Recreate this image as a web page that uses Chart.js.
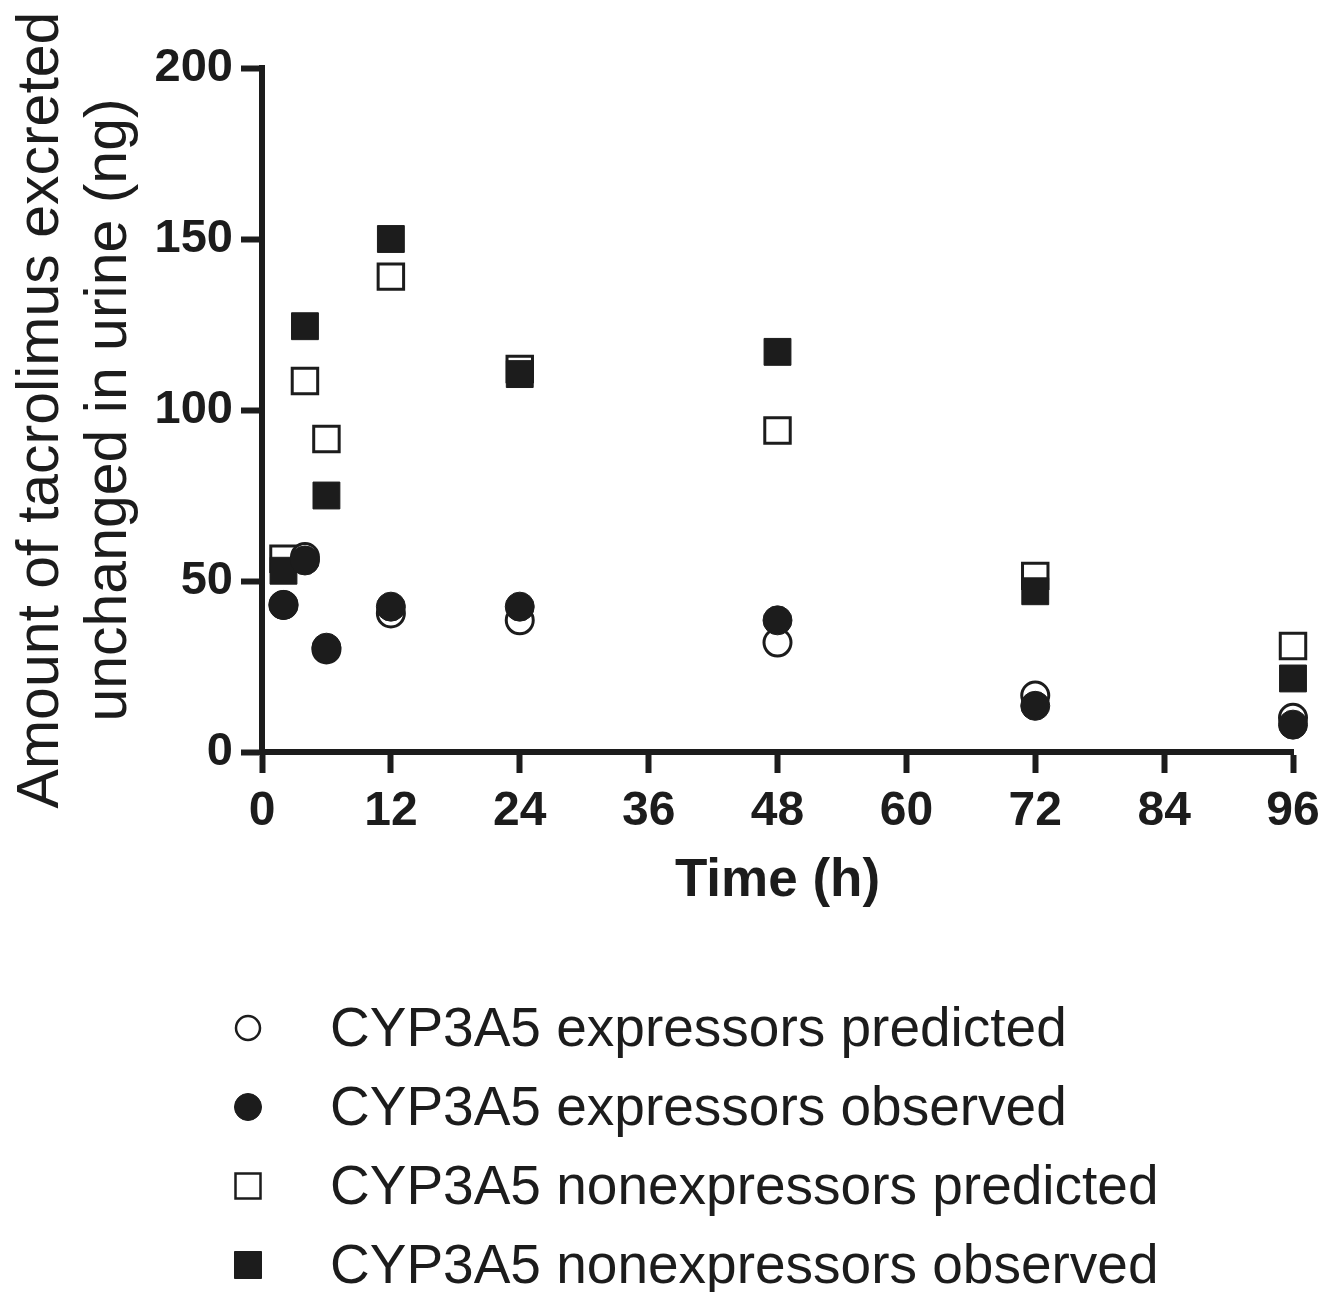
<!DOCTYPE html>
<html>
<head>
<meta charset="utf-8">
<script src="https://cdn.jsdelivr.net/npm/chart.js@4/dist/chart.umd.min.js"></script>
<style>
  html, body { margin: 0; padding: 0; background: #ffffff; }
  #wrap { width: 1337px; height: 1292px; position: relative; }
</style>
</head>
<body>
<div id="wrap"><canvas id="c" width="1337" height="1292"></canvas></div>
<script>
// ---- data ----
const timeHours = [2, 4, 6, 12, 24, 48, 72, 96];
const expressorsPredicted    = [43, 57, 30, 40.5, 38.5, 32, 16.5, 10];
const expressorsObserved     = [43, 56, 30.5, 42.5, 42.5, 38.5, 13.5, 8];
const nonexpressorsPredicted = [56.5, 108.5, 91.5, 139, 112, 94, 51.5, 31];
const nonexpressorsObserved  = [53, 124.5, 75, 150, 110.5, 117, 47, 21.5];
const seriesLabels = [
  'CYP3A5 expressors predicted',
  'CYP3A5 expressors observed',
  'CYP3A5 nonexpressors predicted',
  'CYP3A5 nonexpressors observed'
];
const xTicks = [0, 12, 24, 36, 48, 60, 72, 84, 96];
const yTicks = [0, 50, 100, 150, 200];
const xTitle = 'Time (h)';
const yTitle = ['Amount of tacrolimus excreted', 'unchanged in urine (ng)'];

const INK = '#1c1c1c';
const toPoints = (vals) => timeHours.map((t, i) => ({ x: t, y: vals[i] }));

const datasets = [
  { label: seriesLabels[0], data: toPoints(expressorsPredicted), pointStyle: 'circle',
    pointRadius: 13.5, pointBorderWidth: 3, backgroundColor: '#ffffff', borderColor: INK, order: 1, clip: false },
  { label: seriesLabels[1], data: toPoints(expressorsObserved), pointStyle: 'circle',
    pointRadius: 14.5, pointBorderWidth: 1, backgroundColor: INK, borderColor: INK, order: 0, clip: false },
  { label: seriesLabels[2], data: toPoints(nonexpressorsPredicted), pointStyle: 'rect',
    pointRadius: 18, pointBorderWidth: 3, backgroundColor: '#ffffff', borderColor: INK, order: 1, clip: false },
  { label: seriesLabels[3], data: toPoints(nonexpressorsObserved), pointStyle: 'rect',
    pointRadius: 19, pointBorderWidth: 1, backgroundColor: INK, borderColor: INK, order: 0, clip: false }
];

// custom left-aligned legend, one entry per row
const legendPlugin = {
  id: 'stackedLegend',
  afterDraw(chart, args, opts) {
    const ctx = chart.ctx;
    ctx.save();
    chart.data.datasets.forEach((ds, i) => {
      const cy = opts.firstRowY + i * opts.rowGap;
      const cx = opts.markerX;
      ctx.lineWidth = ds.pointBorderWidth === 3 ? 2.5 : 1;
      ctx.strokeStyle = ds.borderColor;
      ctx.fillStyle = ds.backgroundColor;
      ctx.beginPath();
      if (ds.pointStyle === 'circle') {
        ctx.arc(cx, cy, ds.pointBorderWidth === 3 ? 12 : 13.5, 0, Math.PI * 2);
      } else {
        const h = ds.pointBorderWidth === 3 ? 12.5 : 13.5;
        ctx.rect(cx - h, cy - h, 2 * h, 2 * h);
      }
      ctx.fill();
      ctx.stroke();
      ctx.fillStyle = INK;
      ctx.font = opts.font;
      ctx.textAlign = 'left';
      ctx.textBaseline = 'middle';
      ctx.fillText(ds.label, opts.textX, cy + 3);
    });
    ctx.restore();
  }
};

new Chart(document.getElementById('c'), {
  type: 'scatter',
  data: { datasets },
  plugins: [legendPlugin],
  options: {
    responsive: false,
    animation: false,
    devicePixelRatio: 1,
    layout: { padding: { left: 0, top: 68, right: 44, bottom: 360 } },
    plugins: {
      legend: { display: false },
      tooltip: { enabled: false },
      stackedLegend: {
        markerX: 248, textX: 330, firstRowY: 1028, rowGap: 79,
        font: '55px "Liberation Sans", Arial, sans-serif'
      }
    },
    scales: {
      x: {
        type: 'linear', min: 0, max: 96,
        afterBuildTicks: (s) => { s.ticks = xTicks.map(v => ({ value: v })); },
        afterFit: (s) => { s.height = 180; },
        border: { display: true, color: INK, width: 6 },
        grid: { display: true, drawOnChartArea: false, drawTicks: true, tickLength: 21, tickWidth: 6, tickColor: INK },
        ticks: { color: INK, padding: 10, font: { family: '"Liberation Sans", Arial, sans-serif', size: 48, weight: 'bold' } },
        title: { display: true, text: xTitle, color: INK, padding: { top: 0, bottom: 19 },
                 font: { family: '"Liberation Sans", Arial, sans-serif', size: 53, weight: 'bold', lineHeight: 1.2 } }
      },
      y: {
        type: 'linear', min: 0, max: 200,
        afterBuildTicks: (s) => { s.ticks = yTicks.map(v => ({ value: v })); },
        afterFit: (s) => { s.width = 262; },
        border: { display: true, color: INK, width: 6 },
        grid: { display: true, drawOnChartArea: false, drawTicks: true, tickLength: 21, tickWidth: 6, tickColor: INK },
        ticks: { color: INK, padding: 8, font: { family: '"Liberation Sans", Arial, sans-serif', size: 47, weight: 'bold' } },
        title: { display: true, text: yTitle, color: INK, padding: { top: 8, bottom: 0 },
                 font: { family: '"Liberation Sans", Arial, sans-serif', size: 59, weight: 'normal', lineHeight: 1.15 } }
      }
    }
  }
});
</script>
</body>
</html>
